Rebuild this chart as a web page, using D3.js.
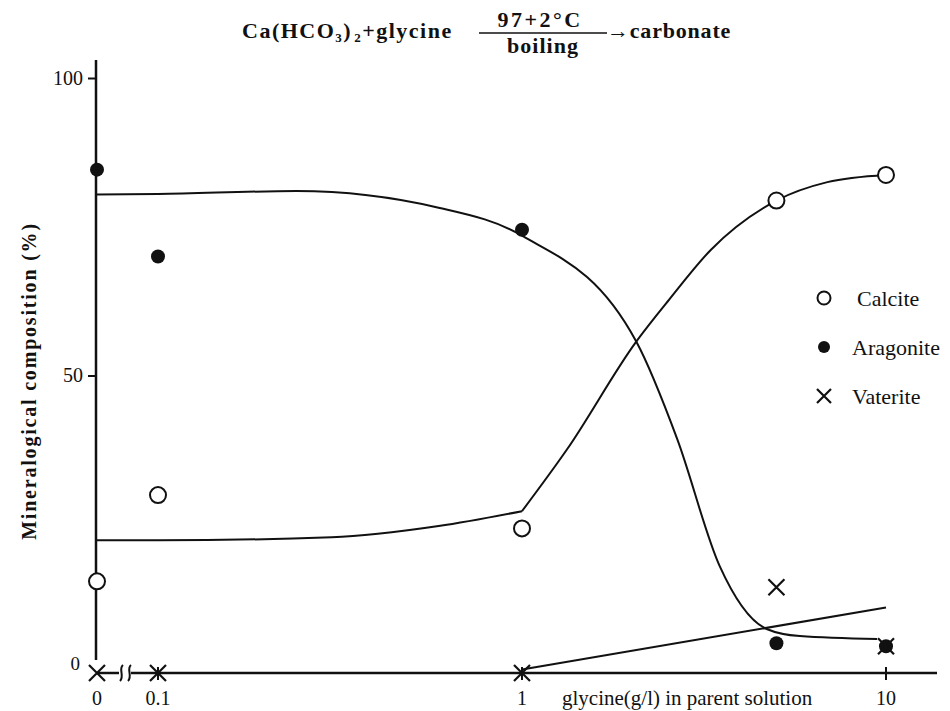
<!DOCTYPE html>
<html>
<head>
<meta charset="utf-8">
<script src="https://cdn.jsdelivr.net/npm/d3@7"></script>
<style>
  body { margin: 0; background: #fff; }
  svg text { font-family: "Liberation Serif", "DejaVu Serif", serif; fill: #111; }
</style>
</head>
<body>
<div id="chart"></div>
<script>
// glycine concentration (g/l) at the sample points
var glycine = [0, 0.1, 1, 5, 10];

// measured composition (%)
var calcite   = [15.4, 29.9, 24.3, 79.4, 83.7];
var aragonite = [84.6, 70.0, 74.5, 5.0, 4.5];
var vaterite  = [0, 0, 0, 14.4, 4.5];

// hand-drawn trend curves: [glycine, %]
var aragoniteCurve = [[0, 80.4], [0.1, 80.5], [0.24, 81.0], [0.59, 78.2], [1, 73.5],
                      [2.06, 55.7], [2.67, 39.3], [3.49, 18.0], [4.7, 7.4], [5.8, 6.2], [9.45, 5.7]];
var calciteCurveLow  = [[0, 22.3], [0.1, 22.3], [0.3, 22.8], [0.59, 24.7], [1, 27.2]];
var calciteCurveHigh = [[1, 27.2], [1.33, 37.6], [2.06, 55.7], [2.54, 62.8], [3.3, 71.1],
                        [5, 79.4], [6.9, 82.5], [10, 83.7]];
var vateriteCurve = [[1, 0.6], [10, 11.0]];

var yTicks = [0, 50, 100];
var xTicks = [0, 0.1, 1, 10];
var xTickLabels = ['0', '0.1', '1', '10'];

var legendItems = ['Calcite', 'Aragonite', 'Vaterite'];

var width = 950, height = 711;

var svg = d3.select('#chart').append('svg')
            .attr('width', width)
            .attr('height', height);

/* ---
 * scales: log axis for glycine, zero sits on its own left of the break
 */
var xLog = d3.scaleLog().domain([0.1, 10]).range([158, 886]);
var xZero = 97;
function xPos(v) { return v === 0 ? xZero : xLog(v); }

var y = d3.scaleLinear().domain([0, 100]).range([673, 78]);

var ink = '#111';

/* ---
 * title
 */
var title = svg.append('g').attr('font-weight', 'bold').attr('font-size', 22);
var t1 = title.append('text').attr('x', 242).attr('y', 38).attr('letter-spacing', 1.5);
t1.append('tspan').text('Ca(HCO');
t1.append('tspan').attr('font-size', 13).attr('dy', 4).text('3');
t1.append('tspan').attr('dy', -4).text(')');
t1.append('tspan').attr('font-size', 13).attr('dy', 4).attr('dx', 2).text('2');
t1.append('tspan').attr('dy', -4).text('+glycine');

title.append('text').attr('x', 540).attr('y', 27).attr('text-anchor', 'middle')
     .attr('letter-spacing', 2.5).text('97+2°C');
title.append('text').attr('x', 543).attr('y', 53).attr('text-anchor', 'middle')
     .attr('letter-spacing', 1).text('boiling');
title.append('line').attr('x1', 479).attr('x2', 607).attr('y1', 33).attr('y2', 33)
     .attr('stroke', ink).attr('stroke-width', 1.5);
title.append('text').attr('x', 607).attr('y', 38).attr('letter-spacing', 0.8).text('→carbonate');

/* ---
 * axes
 */
svg.append('line').attr('x1', 96).attr('x2', 96).attr('y1', 60).attr('y2', 660)
   .attr('stroke', ink).attr('stroke-width', 2.5);

var yAxis = svg.append('g')
  .attr('transform', 'translate(96,0)')
  .call(d3.axisLeft(y).tickValues(yTicks.filter(function(d) { return d > 0; }))
          .tickSize(8).tickPadding(5).tickFormat(d3.format('d')));
yAxis.select('.domain').remove();
yAxis.selectAll('line').attr('stroke', ink).attr('stroke-width', 2);
yAxis.selectAll('text').attr('font-size', 20).attr('font-family', '"Liberation Serif", serif').attr('fill', ink);

svg.append('text').attr('x', 80).attr('y', y(0) - 3).attr('text-anchor', 'end')
   .attr('font-size', 19).text(yTicks[0]);

// x axis line, broken between 0 and 0.1
var axisY = y(0);
[[xZero, 119], [131, 937]].forEach(function(s) {
  svg.append('line').attr('x1', s[0]).attr('x2', s[1]).attr('y1', axisY).attr('y2', axisY)
     .attr('stroke', ink).attr('stroke-width', 2.5);
});
[121, 129].forEach(function(bx) {
  svg.append('path')
     .attr('d', 'M' + (bx + 2) + ',' + (axisY - 8) + ' C' + (bx - 3) + ',' + (axisY - 4) + ' ' + (bx + 4) + ',' + (axisY + 3) + ' ' + (bx - 1) + ',' + (axisY + 8))
     .attr('fill', 'none').attr('stroke', ink).attr('stroke-width', 2);
});

svg.selectAll('.xtick').data(xTicks.slice(1)).enter().append('line')
   .attr('x1', xPos).attr('x2', xPos).attr('y1', axisY - 6).attr('y2', axisY + 7)
   .attr('stroke', ink).attr('stroke-width', 2);

svg.selectAll('.xlabel').data(xTicks).enter().append('text')
   .attr('x', xPos).attr('y', 705).attr('text-anchor', 'middle').attr('font-size', 20)
   .text(function(d, i) { return xTickLabels[i]; });

svg.append('text').attr('x', 562).attr('y', 705).attr('font-size', 21)
   .text('glycine(g/l) in parent solution');

svg.append('text')
   .attr('transform', 'translate(36,' + 381 + ') rotate(-90)')
   .attr('text-anchor', 'middle').attr('font-size', 20).attr('font-weight', 'bold')
   .attr('letter-spacing', 1.8)
   .text('Mineralogical composition (%)');

/* ---
 * trend curves
 */
var line = d3.line()
  .x(function(d) { return xPos(d[0]); })
  .y(function(d) { return y(d[1]); })
  .curve(d3.curveMonotoneX);

[aragoniteCurve, calciteCurveLow, calciteCurveHigh, vateriteCurve].forEach(function(c) {
  svg.append('path').datum(c).attr('d', line)
     .attr('fill', 'none').attr('stroke', ink).attr('stroke-width', 2);
});

/* ---
 * markers
 */
function cross(g, cx, cy, s) {
  g.append('path')
   .attr('d', 'M' + (cx - s) + ',' + (cy - s) + 'L' + (cx + s) + ',' + (cy + s) +
              'M' + (cx - s) + ',' + (cy + s) + 'L' + (cx + s) + ',' + (cy - s))
   .attr('stroke', ink).attr('stroke-width', 2.2).attr('fill', 'none');
}

svg.selectAll('.calcite').data(glycine).enter().append('circle')
   .attr('cx', xPos).attr('cy', function(d, i) { return y(calcite[i]); })
   .attr('r', 8).attr('fill', '#fff').attr('stroke', ink).attr('stroke-width', 2);

svg.selectAll('.aragonite').data(glycine).enter().append('circle')
   .attr('cx', xPos).attr('cy', function(d, i) { return y(aragonite[i]); })
   .attr('r', 7).attr('fill', ink);

glycine.forEach(function(g, i) {
  cross(svg, xPos(g), y(vaterite[i]), 8);
});

/* ---
 * legend
 */
var legend = svg.append('g').attr('font-size', 22);
legendItems.forEach(function(name, i) {
  var ly = 298 + i * 49;
  if (i === 0) {
    legend.append('circle').attr('cx', 824).attr('cy', ly).attr('r', 6.5)
          .attr('fill', '#fff').attr('stroke', ink).attr('stroke-width', 2);
  } else if (i === 1) {
    legend.append('circle').attr('cx', 824).attr('cy', ly).attr('r', 6).attr('fill', ink);
  } else {
    cross(legend, 824, ly, 7);
  }
  legend.append('text').attr('x', i === 0 ? 857 : 852).attr('y', ly + 8).text(name);
});
</script>
</body>
</html>
